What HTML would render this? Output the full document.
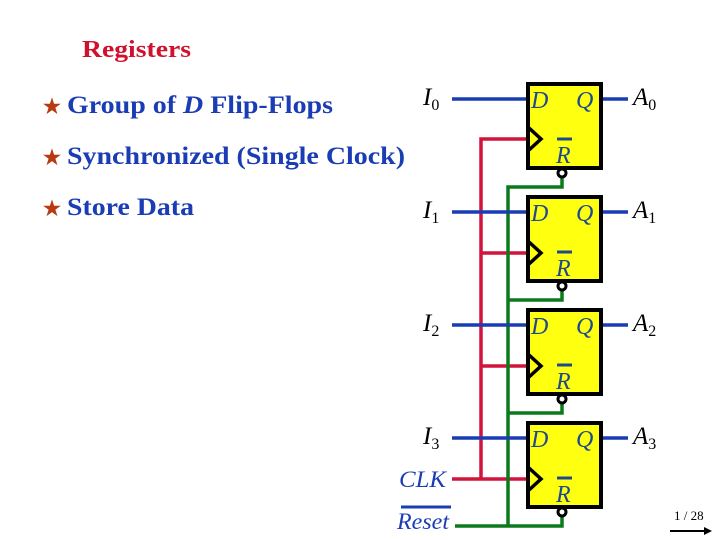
<!DOCTYPE html>
<html><head><meta charset="utf-8"><style>
html,body{margin:0;padding:0;background:#fff;}
body{width:720px;height:540px;overflow:hidden;}
svg{display:block;}
</style></head><body>
<svg width="720" height="540" viewBox="0 0 720 540" xmlns="http://www.w3.org/2000/svg" font-family="Liberation Serif, serif">
<text x="82" y="57" font-size="24" font-weight="bold" fill="#d0102c" textLength="109" lengthAdjust="spacingAndGlyphs">Registers</text>
<g font-size="25" font-weight="bold" fill="#1a3cb4">
<text x="43" y="113" fill="#b83a10" font-size="20">★</text>
<text x="67" y="113" textLength="266" lengthAdjust="spacingAndGlyphs">Group of <tspan font-style="italic">D</tspan> Flip-Flops</text>
<text x="43" y="164" fill="#b83a10" font-size="20">★</text>
<text x="67" y="164" textLength="338" lengthAdjust="spacingAndGlyphs">Synchronized (Single Clock)</text>
<text x="43" y="215" fill="#b83a10" font-size="20">★</text>
<text x="67" y="215" textLength="127" lengthAdjust="spacingAndGlyphs">Store Data</text>
</g>
<g stroke-width="3.5" fill="none">
<path d="M452 479 H528 M481 479 V139 H528 M481 253 H528 M481 366 H528" stroke="#d0143c"/>
<path d="M455 526 H562 V515 M508 526 V187 H562 V178 M508 300 H562 V291 M508 413 H562 V404" stroke="#0a7a1a"/>
</g>
<g stroke="#1a3cb4" stroke-width="3.5">
<path d="M452 99 H528 M602 99 H628"/>
<path d="M452 212 H528 M602 212 H628"/>
<path d="M452 325 H528 M602 325 H628"/>
<path d="M452 438 H528 M602 438 H628"/>
</g>
<g fill="#ffff10" stroke="#000" stroke-width="4">
<rect x="528" y="84" width="73" height="84"/>
<rect x="528" y="197" width="73" height="84"/>
<rect x="528" y="310" width="73" height="84"/>
<rect x="528" y="423" width="73" height="84"/>
</g>
<g fill="none" stroke="#000" stroke-width="3.5">
<path d="M529 128 L541 139 L529 150"/>
<path d="M529 242 L541 253 L529 264"/>
<path d="M529 355 L541 366 L529 377"/>
<path d="M529 468 L541 479 L529 490"/>
</g>
<g fill="#fff" stroke="#000" stroke-width="3">
<circle cx="562" cy="173" r="4"/>
<circle cx="562" cy="286" r="4"/>
<circle cx="562" cy="399" r="4"/>
<circle cx="562" cy="512" r="4"/>
</g>
<g font-size="24" font-style="italic" fill="#1c4a8c">
<text x="531" y="108">D</text><text x="576" y="108">Q</text><text x="556" y="163">R</text>
<text x="531" y="221">D</text><text x="576" y="221">Q</text><text x="556" y="276">R</text>
<text x="531" y="334">D</text><text x="576" y="334">Q</text><text x="556" y="389">R</text>
<text x="531" y="447">D</text><text x="576" y="447">Q</text><text x="556" y="502">R</text>
</g>
<g stroke="#1c4a8c" stroke-width="3">
<path d="M557 139 H572 M557 252 H572 M557 365 H572 M557 478 H572"/>
</g>
<g font-size="25" font-style="italic" fill="#000">
<text x="423" y="105">I<tspan font-size="16" font-style="normal" dy="5">0</tspan></text>
<text x="423" y="218">I<tspan font-size="16" font-style="normal" dy="5">1</tspan></text>
<text x="423" y="331">I<tspan font-size="16" font-style="normal" dy="5">2</tspan></text>
<text x="423" y="444">I<tspan font-size="16" font-style="normal" dy="5">3</tspan></text>
<text x="633" y="105">A<tspan font-size="16" font-style="normal" dy="5">0</tspan></text>
<text x="633" y="218">A<tspan font-size="16" font-style="normal" dy="5">1</tspan></text>
<text x="633" y="331">A<tspan font-size="16" font-style="normal" dy="5">2</tspan></text>
<text x="633" y="444">A<tspan font-size="16" font-style="normal" dy="5">3</tspan></text>
</g>
<g font-size="23" font-style="italic" fill="#1a3cb4">
<text x="399" y="487" textLength="47" lengthAdjust="spacingAndGlyphs">CLK</text>
<text x="397" y="529" textLength="52" lengthAdjust="spacingAndGlyphs">Reset</text>
</g>
<path d="M401 507 H451" stroke="#1a3cb4" stroke-width="3"/>
<text x="674" y="520" font-size="13" fill="#000">1 / 28</text>
<path d="M670 531 H710" stroke="#000" stroke-width="2"/>
<path d="M712 531 L704 527 L704 535 Z" fill="#000"/>
</svg>
</body></html>
